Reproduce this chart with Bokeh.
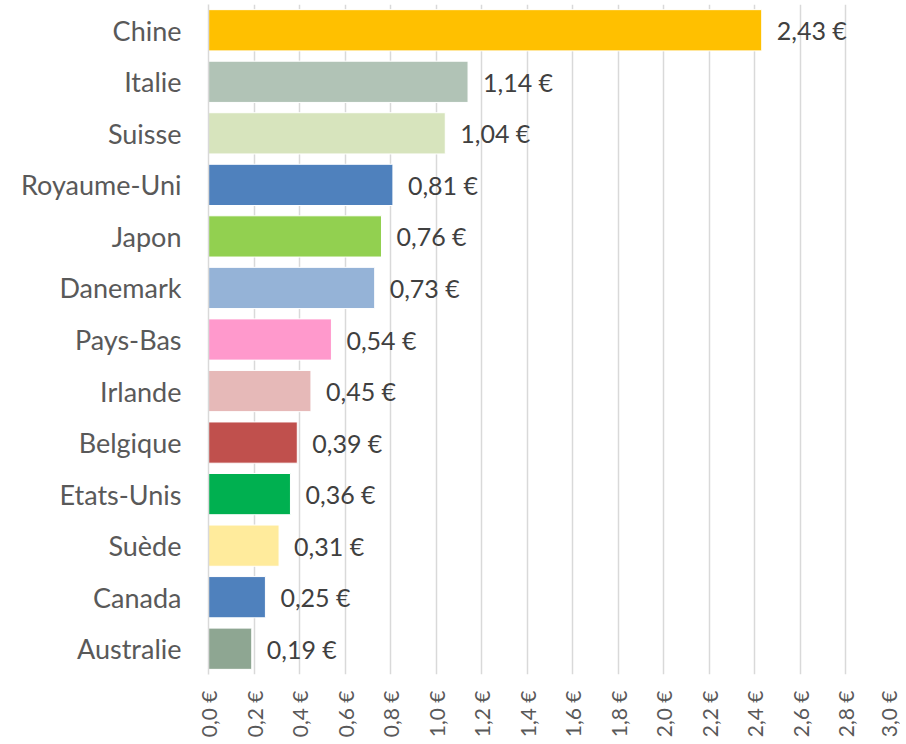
from bokeh.plotting import figure
from bokeh.models import ColumnDataSource, Range1d, FixedTicker, CustomJSTickFormatter
from bokeh.embed import file_html
from bokeh.resources import INLINE
from bokeh.core.properties import value
import math

countries = ["Chine", "Italie", "Suisse", "Royaume-Uni", "Japon", "Danemark", "Pays-Bas",
             "Irlande", "Belgique", "Etats-Unis", "Suède", "Canada", "Australie"]
values = [2.43, 1.14, 1.04, 0.81, 0.76, 0.73, 0.54, 0.45, 0.39, 0.36, 0.31, 0.25, 0.19]
colors = ["#FFC000", "#B1C3B6", "#D7E4BD", "#4F81BD", "#92D050", "#95B3D7", "#FF99CC",
          "#E6B9B8", "#C0504D", "#00B050", "#FFEB9C", "#4F81BD", "#8EA692"]
x_ticks = [round(i * 0.2, 1) for i in range(16)]

n = len(countries)
ypos = [n - 0.5 - i for i in range(n)]
labels = [("%.2f" % v).replace(".", ",") + " €" for v in values]

src = ColumnDataSource(dict(y=ypos, v=values, c=colors, lab=labels))

p = figure(width=900, height=740, output_backend="svg", toolbar_location=None,
           x_range=Range1d(0, 3.0), y_range=Range1d(0, 13),
           min_border_left=208, min_border_right=9, min_border_top=4, min_border_bottom=64)
p.outline_line_color = None
p.background_fill_color = "white"

p.hbar(y="y", right="v", left=0, height=0.8, fill_color="c", line_color="white",
       line_width=1, source=src)
p.text(x="v", y="y", text="lab", source=src, x_offset=15, text_baseline="middle",
       text_align="left", text_font=value("Lato"), text_font_size="25px", text_color="#404040")

# x axis
p.xaxis.ticker = FixedTicker(ticks=x_ticks)
p.xaxis.formatter = CustomJSTickFormatter(code="return tick.toFixed(1).replace('.', ',') + ' €';")
p.xaxis.major_label_orientation = math.pi / 2
p.xaxis.axis_line_color = None
p.xaxis.major_tick_line_color = None
p.xaxis.minor_tick_line_color = None
p.xaxis.major_label_text_font = "Lato"
p.xaxis.major_label_text_font_size = "21px"
p.xaxis.major_label_text_color = "#595959"
p.xaxis.major_label_standoff = 10

# y axis
p.yaxis.ticker = FixedTicker(ticks=ypos)
p.yaxis.major_label_overrides = {y: c for y, c in zip(ypos, countries)}
p.yaxis.axis_line_color = "#D9D9D9"
p.yaxis.axis_line_width = 1.5
p.yaxis.major_tick_line_color = None
p.yaxis.minor_tick_line_color = None
p.yaxis.major_label_text_font = "Lato"
p.yaxis.major_label_text_font_size = "27px"
p.yaxis.major_label_text_color = "#595959"
p.yaxis.major_label_standoff = 21

p.xgrid.grid_line_color = "#D9D9D9"
p.xgrid.grid_line_width = 1.5
p.ygrid.grid_line_color = None

open("out.html", "w").write(file_html(p, INLINE))
